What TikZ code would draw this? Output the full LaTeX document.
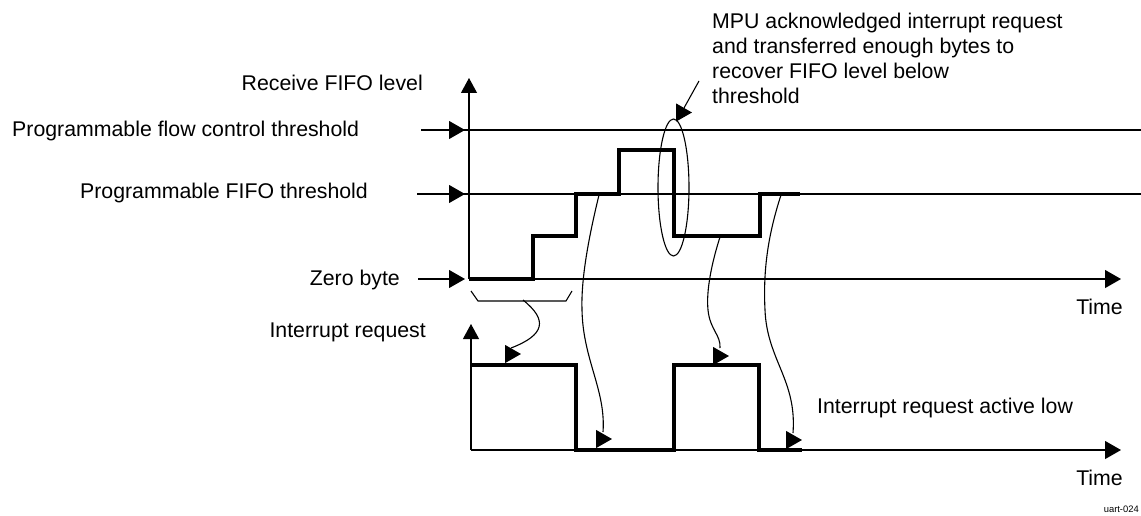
\documentclass[tikz,border=0pt]{standalone}
\usepackage{fontspec}
\setmainfont{Liberation Sans}
\usetikzlibrary{arrows.meta,shapes.geometric}
\begin{document}
\begin{tikzpicture}[x=1pt,y=-1pt,
  thinln/.style={line width=1.1pt,line cap=butt},
  sig/.style={line width=3.6pt,line join=miter},
  tri/.style={-{Triangle[length=16pt,width=18pt]}},
  axtri/.style={-{Triangle[length=15pt,width=16pt]}},
  lbl/.style={font=\fontsize{21.3}{25}\selectfont,inner sep=0pt},
  small/.style={font=\fontsize{9.4}{11}\selectfont,inner sep=0pt}]
\useasboundingbox (0,0) rectangle (1141,516);
\fill[white] (0,0) rectangle (1141,516);

% labels
\node[lbl,anchor=base east] (rfl) at (423,91) {Receive FIFO level};
\node[lbl,anchor=base west] (pfct) at (12,137) {Programmable flow control threshold};
\node[lbl,anchor=base east] (pft) at (368,198) {Programmable FIFO threshold};
\node[lbl,anchor=base east] (zb) at (400,285) {Zero byte};
\node[lbl,anchor=base east] (irq) at (426,337) {Interrupt request};
\node[lbl,anchor=base west] (ial) at (817,413) {Interrupt request active low};
\node[lbl,anchor=base east] (t1) at (1123,314) {Time};
\node[lbl,anchor=base east] (t2) at (1123,485) {Time};
\node[small,anchor=base east] (uid) at (1139,512) {uart-024};
\node[lbl,align=left,anchor=north west] (note) at (712,13.2)
  {MPU acknowledged interrupt request\\and transferred enough bytes to\\recover FIFO level below\\threshold};

% upper axes
\coordinate (o1) at (469,279);
\coordinate (ytop) at (469,78);
\coordinate (xend1) at (1121,279);
\draw[thinln,axtri] (o1) -- (ytop);
\draw[thinln,tri] (o1) -- (xend1);

% threshold lines
\coordinate (fcs) at (421,130); \coordinate (fca) at (465,130); \coordinate (fce) at (1141,130);
\coordinate (fts) at (417,194); \coordinate (fta) at (465,194); \coordinate (fte) at (1141,194);
\coordinate (zbs) at (418,279); \coordinate (zba) at (465,279);
\draw[thinln] (fcs) -- (fce);
\draw[thinln,tri] (fcs) -- (fca);
\draw[thinln] (fts) -- (fte);
\draw[thinln,tri] (fts) -- (fta);
\draw[thinln,tri] (zbs) -- (zba);

% lower axes
\coordinate (o2) at (471,450);
\coordinate (ytop2) at (471,324);
\coordinate (xend2) at (1121,450);
\draw[thinln,axtri] (o2) -- (ytop2);
\draw[thinln,tri] (o2) -- (xend2);

% FIFO level signal
\draw[sig] (469,279) -- (533,279) -- (533,236) -- (576,236) -- (576,194) -- (619,194)
  -- (619,150) -- (674,150) -- (674,236) -- (760,236) -- (760,194) -- (800,194);

% interrupt signal
\draw[sig] (471,365) -- (576,365) -- (576,450) -- (674,450) -- (674,365) -- (759,365)
  -- (759,450) -- (802,450);

% bracket
\coordinate (bm) at (523,300);
\draw[thinln] (471,291) -- (478,301) -- (566,301) -- (572,291);
\draw[thinln,tri] (bm) .. controls (548,320) and (545,335) .. (511,348)
  (505,354) -- (521,354);

% curved connectors
\coordinate (c1) at (599,195);
\coordinate (c2) at (720,237);
\coordinate (c3) at (781,195);
\draw[thinln,tri] (c1) .. controls (588,240) and (581,280) .. (582,310)
  .. controls (583,360) and (606,390) .. (603,432)
  (596,439) -- (612,439);
\draw[thinln,tri] (c2) .. controls (712,262) and (706,290) .. (708,310)
  .. controls (710,330) and (721,335) .. (720,348)
  (713,356) -- (729,356);
\draw[thinln,tri] (c3) .. controls (768,235) and (763,270) .. (765,310)
  .. controls (767,360) and (797,380) .. (793,433)
  (786,440) -- (802,440);

% annotation ellipse and arrow
\node[draw,thinln,ellipse,minimum width=31pt,minimum height=137pt,inner sep=0pt] (ell) at (673.5,187.5) {};
\coordinate (ns) at (699,81);
\draw[thinln,tri] (ns) -- (684,108) (676,112.5) -- (692,112.5);
\end{tikzpicture}
\end{document}
